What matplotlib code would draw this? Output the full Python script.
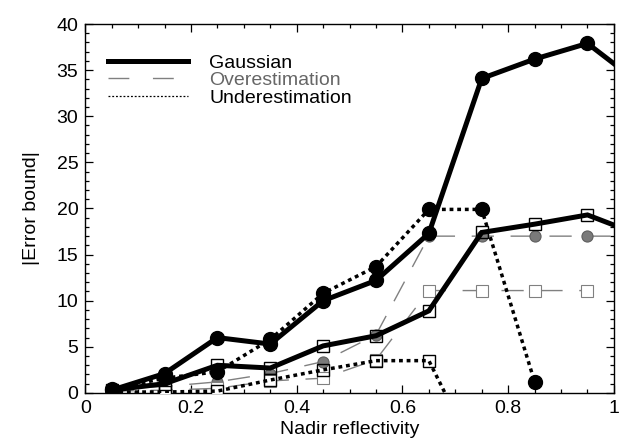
import matplotlib
matplotlib.use("Agg")
import matplotlib.pyplot as plt
from matplotlib.lines import Line2D
from matplotlib.ticker import MultipleLocator, FuncFormatter

plt.rcParams["font.family"] = ["Liberation Sans", "DejaVu Sans"]

# nadir reflectivity bins (last one sits just outside the axis)
refl = [0.05, 0.15, 0.25, 0.35, 0.45, 0.55, 0.65, 0.75, 0.85, 0.95, 1.05]

gauss_hi = [0.3, 2.1, 6.0, 5.3, 10.0, 12.2, 17.3, 34.1, 36.2, 37.9, 33.5]
gauss_lo = [0.3, 1.0, 3.0, 2.7, 5.1, 6.2, 8.9, 17.4, 18.3, 19.3, 17.1]

over_hi = [0.4, 0.7, 1.2, 2.1, 3.4, 6.3, 17.0, 17.0, 17.0, 17.0, 17.0]
over_lo = [0.2, 0.3, 0.5, 1.3, 1.6, 3.6, 11.1, 11.1, 11.1, 11.1]

under_hi = [0.4, 1.6, 2.3, 5.8, 10.8, 13.7, 19.9, 19.9, 1.2]
under_lo = [0.1, 0.1, 0.2, 1.4, 2.5, 3.5, 3.5, -8.0]

GRAY = "#808080"
DASH = (0, (16, 12))
DOT = (0, (1.1, 1.1))

fig = plt.figure(figsize=(6.22, 4.45), dpi=100)
ax = fig.add_axes([0.137, 0.117, 0.850, 0.829])

# overestimation (gray, long dashes)
ax.plot(refl[:len(over_hi)], over_hi, color=GRAY, lw=1.0, ls=DASH,
        marker="o", ms=8, mfc="#7a7a7a", mec="#5e5e5e", mew=0.8, zorder=3)
ax.plot(refl[:len(over_lo)], over_lo, color=GRAY, lw=1.0, ls=DASH,
        marker="s", ms=9, mfc="white", mec=GRAY, mew=0.8, zorder=3)

# underestimation (black, dotted)
ax.plot(refl[:len(under_hi)], under_hi, color="black", lw=2.5, ls=DOT,
        marker="o", ms=10, mfc="black", mec="black", zorder=4)
ax.plot(refl[:len(under_lo)], under_lo, color="black", lw=2.5, ls=DOT,
        marker="s", ms=9, mfc="none", mec="black", mew=1.0, zorder=4)

# gaussian (black, thick solid)
ax.plot(refl, gauss_hi, color="black", lw=3.6, solid_joinstyle="miter",
        marker="o", ms=10, mfc="black", mec="black", zorder=5)
ax.plot(refl, gauss_lo, color="black", lw=3.6, solid_joinstyle="miter",
        marker="s", ms=9, mfc="none", mec="black", mew=1.0, zorder=5)

ax.set_xlim(0, 1)
ax.set_ylim(0, 40)
ax.xaxis.set_major_locator(MultipleLocator(0.2))
ax.xaxis.set_minor_locator(MultipleLocator(0.05))
ax.yaxis.set_major_locator(MultipleLocator(5))
ax.yaxis.set_minor_locator(MultipleLocator(1))
ax.xaxis.set_major_formatter(FuncFormatter(lambda v, p: f"{v:g}"))
ax.tick_params(which="both", direction="in", top=True, right=True,
               labelsize=14, width=0.9)
ax.tick_params(which="major", length=6, pad=5)
ax.tick_params(which="minor", length=3)
for s in ax.spines.values():
    s.set_linewidth(1.0)

ax.set_xlabel("Nadir reflectivity", fontsize=14, labelpad=3)
ax.set_ylabel("|Error bound|", fontsize=14, labelpad=12)

handles = [
    Line2D([], [], color="black", lw=3.6),
    Line2D([], [], color=GRAY, lw=1.0, ls=(0, (15, 17))),
    Line2D([], [], color="black", lw=0.9, ls=(0, (1.5, 1.5))),
]
leg = ax.legend(handles, ["Gaussian", "Overestimation", "Underestimation"],
                loc="upper left", bbox_to_anchor=(0.025, 0.945), frameon=False,
                fontsize=14, handlelength=4.1, handletextpad=1.1,
                labelspacing=0.0, borderpad=0)
for txt, c in zip(leg.get_texts(), ["black", "#666666", "black"]):
    txt.set_color(c)

fig.savefig("out.png", dpi=100)
